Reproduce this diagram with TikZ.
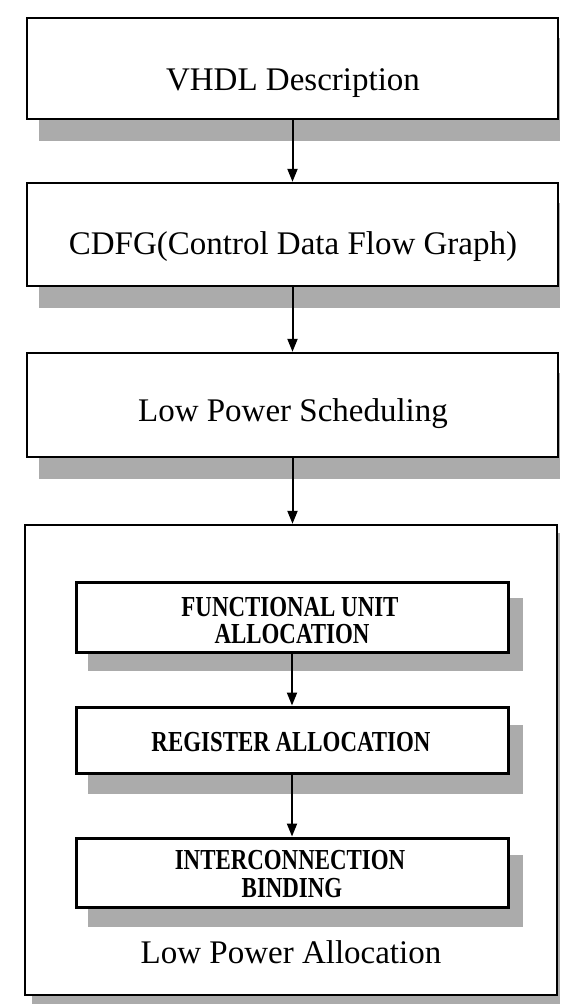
\documentclass[tikz,border=0pt]{standalone}
\usepackage{fontspec}
\setmainfont{Liberation Serif}
\newfontfamily\condfont[FakeStretch=0.79]{Liberation Serif}
\usetikzlibrary{arrows.meta}
\pgfdeclarelayer{bg}
\pgfdeclarelayer{lbig}
\pgfdeclarelayer{lshadow}
\pgfsetlayers{bg,lbig,lshadow,main}
\tikzset{
  shadowcol/.style={fill=black!33},
  obox/.style={draw=black, line width=2.4pt, fill=white, rectangle, inner sep=0pt, minimum width=531pt},
  ibox/.style={draw=black, line width=3pt, fill=white, rectangle, inner sep=0pt, minimum width=432pt},
  bigbox/.style={draw=black, line width=2.4pt, fill=white, rectangle, inner sep=0pt},
  otext/.style={anchor=base, inner sep=0pt, font=\fontsize{33}{36}\selectfont},
  itext/.style={anchor=base, inner sep=0pt, font=\condfont\bfseries\fontsize{29}{29}\selectfont},
  arr/.style={draw=black, line width=2pt, -{Triangle[length=13pt,width=10pt]}}
}
\begin{document}
\begin{tikzpicture}[x=1pt,y=-1pt]
\useasboundingbox (0,0) rectangle (560,1004);
\coordinate (pr) at (560,1004);
% outer boxes
\node[obox, minimum height=101pt] (b1) at (292.5,68.5) {};
\node[obox, minimum height=103pt] (b2) at (292.5,234.5) {};
\node[obox, minimum height=104pt] (b3) at (292.5,405) {};
\begin{pgfonlayer}{lbig}
\node[bigbox, minimum width=532pt, minimum height=470pt] (big) at (291,760) {};
\end{pgfonlayer}
% inner boxes
\node[ibox, minimum height=70pt] (fu) at (292,617) {};
\node[ibox, minimum height=66pt] (reg) at (292,740) {};
\node[ibox, minimum height=69pt] (ic) at (292,872.5) {};
% shadows
\begin{pgfonlayer}{bg}
  \foreach \n in {b1,b2,b3}{
    \fill[shadowcol] ([xshift=13pt,yshift=-21pt]\n.north west) rectangle ([yshift=-21pt]\n.south east -| pr);
  }
  \fill[shadowcol] ([xshift=8pt,yshift=-9pt]big.north west) rectangle ([yshift=-9pt]big.south east -| pr);
\end{pgfonlayer}
\begin{pgfonlayer}{lshadow}
  \foreach \n/\dy in {fu/17, reg/19, ic/18}{
    \fill[shadowcol] ([xshift=13pt,yshift=-\dy pt]\n.north west) rectangle ([xshift=13pt,yshift=-\dy pt]\n.south east);
  }
\end{pgfonlayer}
% texts
\node[otext] (t1) at (293,90) {VHDL Description};
\node[otext] (t2) at (293,254) {CDFG(Control Data Flow Graph)};
\node[otext] (t3) at (293,421) {Low Power Scheduling};
\node[itext] (t4a) at (290,616) {FUNCTIONAL UNIT};
\node[itext] (t4b) at (292,643) {ALLOCATION};
\node[itext] (t5) at (291,751) {REGISTER ALLOCATION};
\node[itext] (t6a) at (290,869) {INTERCONNECTION};
\node[itext] (t6b) at (292,897) {BINDING};
\node[otext] (t7) at (291,963) {Low Power Allocation};
% arrows
\draw[arr] (b1) -- (b2);
\draw[arr] (b2) -- (b3);
\draw[arr] (b3.south) -- (b3.south |- big.north);
\draw[arr] (fu) -- (reg);
\draw[arr] (reg) -- (ic);
\end{tikzpicture}
\end{document}
